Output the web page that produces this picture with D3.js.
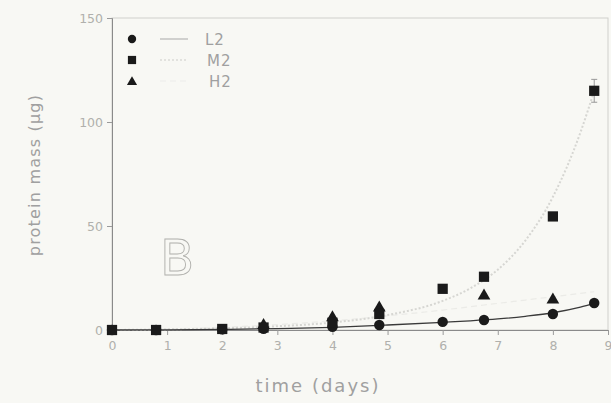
<!DOCTYPE html>
<html>
<head>
<meta charset="utf-8">
<script src="https://cdn.jsdelivr.net/npm/d3@7"></script>
<style>
  html, body { margin: 0; padding: 0; background: #f8f8f4; }
  svg { display: block; }
  text { font-family: "DejaVu Sans", sans-serif; fill: #a0a0a0; }
</style>
</head>
<body>
<div id="chart"></div>
<script>
// measured days and protein mass (ug)
const days = [0, 0.8, 2, 2.75, 4, 4.85, 6, 6.75, 8, 8.75];
const l2 = [0, 0, 0.3, 0.6, 1.5, 2.4, 3.9, 4.8, 7.7, 13];
const m2 = [0, 0, 0.5, 1.2, 3.5, 7.7, 19.8, 25.6, 54.6, 115];
const h2Days = [2.75, 4, 4.85, 6.75, 8];
const h2 = [2.2, 6, 10.6, 16.4, 14.5];
const m2Err = [{ x: 8.75, y: 115, e: 5.5 }];

// fitted curves
const fitDays = [0, 1, 2, 3, 4, 5, 6, 6.5, 7, 7.5, 8, 8.5, 8.75];
const l2Fit = [0, 0.1, 0.3, 0.7, 1.3, 2.4, 3.7, 4.4, 5.3, 6.6, 8.3, 11, 12.8];
const m2Fit = [0, 0.3, 0.8, 1.8, 3.6, 7.2, 14, 20, 29, 43, 64, 95, 115];
const h2Fit = [0, 0.5, 1.3, 2.6, 4.4, 6.8, 9.6, 11.2, 12.8, 14.4, 16, 17.6, 18.4];

const xTicks = [0, 1, 2, 3, 4, 5, 6, 7, 8, 9];
const yTicks = [0, 50, 100, 150];
const legendNames = ["L2", "M2", "H2"];

const width = 611, height = 403;
const svg = d3.select("#chart").append("svg")
    .attr("width", width)
    .attr("height", height);

const x = d3.scaleLinear().domain([0, 9]).range([112, 608]);
const y = d3.scaleLinear().domain([0, 150]).range([330, 18]);

// frame
svg.append("rect")
    .attr("x", x(0)).attr("y", y(150))
    .attr("width", x(9) - x(0)).attr("height", y(0) - y(150))
    .attr("fill", "none").attr("stroke", "#d0d0cc").attr("stroke-width", 1);

// axes
const xAxis = svg.append("g")
    .attr("transform", `translate(0,${y(0)})`)
    .call(d3.axisBottom(x).tickValues(xTicks).tickSize(5).tickPadding(6));
const yAxis = svg.append("g")
    .attr("transform", `translate(${x(0)},0)`)
    .call(d3.axisLeft(y).tickValues(yTicks).tickSize(5).tickPadding(4));
[xAxis, yAxis].forEach(g => {
    g.select(".domain").attr("stroke", "#8a8a8a");
    g.selectAll(".tick line").attr("stroke", "#9a9a9a");
    g.selectAll(".tick text")
        .style("fill", "#b0b0ac")
        .style("font-size", "12.5px")
        .style("font-family", "DejaVu Sans, sans-serif");
});

// titles
svg.append("text")
    .attr("x", 318).attr("y", 392)
    .attr("text-anchor", "middle")
    .style("font-size", "18px")
    .style("letter-spacing", "2px")
    .text("time (days)");
svg.append("text")
    .attr("transform", "translate(40,175) rotate(-90)")
    .attr("text-anchor", "middle")
    .style("font-size", "16px")
    .style("letter-spacing", "1.2px")
    .text("protein mass (\u03bcg)");

// panel letter
svg.append("text")
    .attr("x", 160).attr("y", 275)
    .style("font-size", "50px")
    .style("fill", "none")
    .style("stroke", "#b0b0ac")
    .style("stroke-width", 0.9)
    .text("B");

// fit lines
const line = d3.line().x(d => x(d[0])).y(d => y(d[1])).curve(d3.curveMonotoneX);
svg.append("path")
    .attr("d", line(d3.zip(fitDays, h2Fit)))
    .attr("fill", "none").attr("stroke", "#ebebe7").attr("stroke-width", 1.2)
    .attr("stroke-dasharray", "6,4");
svg.append("path")
    .attr("d", line(d3.zip(fitDays, m2Fit)))
    .attr("fill", "none").attr("stroke", "#d6d6d2").attr("stroke-width", 2)
    .attr("stroke-dasharray", "2,2");
svg.append("path")
    .attr("d", line(d3.zip(fitDays, l2Fit)))
    .attr("fill", "none").attr("stroke", "#3a3a3a").attr("stroke-width", 1.3);

// error bar
svg.selectAll("g.err")
    .data(m2Err)
    .enter()
    .append("g")
    .each(function (d) {
        const g = d3.select(this);
        g.append("line").attr("x1", x(d.x)).attr("x2", x(d.x))
            .attr("y1", y(d.y + d.e)).attr("y2", y(d.y - d.e))
            .attr("stroke", "#999");
        [d.y + d.e, d.y - d.e].forEach(v => g.append("line")
            .attr("x1", x(d.x) - 3).attr("x2", x(d.x) + 3)
            .attr("y1", y(v)).attr("y2", y(v)).attr("stroke", "#999"));
    });

const ink = "#1a1a1a";
const sym = {
    circle: d3.symbol().type(d3.symbolCircle).size(85),
    square: d3.symbol().type(d3.symbolSquare).size(105),
    triangle: d3.symbol().type(d3.symbolTriangle).size(70)
};

svg.selectAll("path.h2")
    .data(d3.zip(h2Days, h2))
    .enter().append("path").classed("h2", true)
    .attr("d", sym.triangle)
    .attr("transform", d => `translate(${x(d[0])},${y(d[1])})`)
    .attr("fill", ink);
svg.selectAll("path.l2")
    .data(d3.zip(days, l2))
    .enter().append("path").classed("l2", true)
    .attr("d", sym.circle)
    .attr("transform", d => `translate(${x(d[0])},${y(d[1])})`)
    .attr("fill", ink);
svg.selectAll("path.m2")
    .data(d3.zip(days, m2))
    .enter().append("path").classed("m2", true)
    .attr("d", sym.square)
    .attr("transform", d => `translate(${x(d[0])},${y(d[1])})`)
    .attr("fill", ink);

// legend
const legendSyms = [sym.circle, sym.square, sym.triangle];
const legendStroke = [
    { c: "#a8a8a8", w: 1, dash: null },
    { c: "#e2e2de", w: 2, dash: "2,2" },
    { c: "#ececea", w: 1.2, dash: "6,4" }
];
const legend = svg.selectAll("g.legend")
    .data(legendNames)
    .enter().append("g").classed("legend", true)
    .attr("transform", (d, i) => `translate(0,${39 + i * 21})`);
legend.append("path")
    .attr("d", (d, i) => legendSyms[i]())
    .attr("transform", (d, i) => `translate(132,${i === 2 ? 1 : 0}) scale(0.8)`)
    .attr("fill", ink);
legend.append("line")
    .attr("x1", 160).attr("x2", 188)
    .attr("stroke", (d, i) => legendStroke[i].c)
    .attr("stroke-width", (d, i) => legendStroke[i].w)
    .attr("stroke-dasharray", (d, i) => legendStroke[i].dash);
legend.append("text")
    .attr("x", (d, i) => 205 + i * 2)
    .attr("y", 6)
    .style("font-size", "15px")
    .style("letter-spacing", "1px")
    .text(d => d);
</script>
</body>
</html>
